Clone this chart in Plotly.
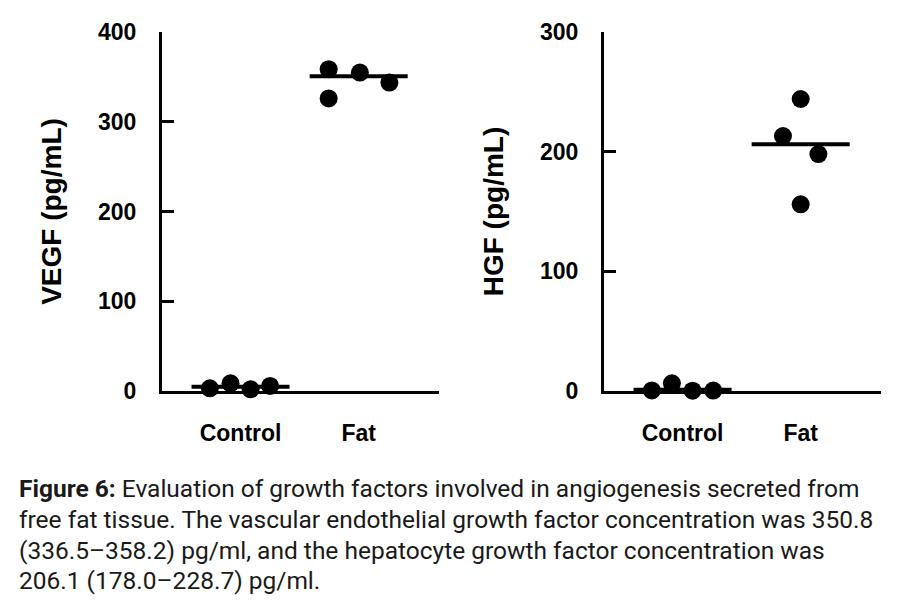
import plotly.graph_objects as go

# ---------------- data ----------------
groups = ["Control", "Fat"]
vegf_control = [3.0, 8.6, 1.9, 5.6]
vegf_fat = [358.6, 354.8, 343.7, 326.0]
vegf_median = [4.8, 350.8]
hgf_control = [0.5, 6.4, 0.3, 0.4]
hgf_fat = [244.0, 213.0, 198.0, 156.0]
hgf_median = [1.0, 206.1]
vegf_ticks = [0, 100, 200, 300, 400]
hgf_ticks = [0, 100, 200, 300]
caption_lines = [
    "<b>Figure 6:</b> Evaluation of growth factors involved in angiogenesis secreted from",
    "free fat tissue. The vascular endothelial growth factor concentration was 350.8",
    "(336.5\u2013358.2) pg/ml, and the hepatocyte growth factor concentration was",
    "206.1 (178.0\u2013228.7) pg/ml.",
]

# ---------------- styling / layout helpers ----------------
W, H = 920, 610
OFF_X, OFF_Y = 6, 8  # default page body margin compensation
jit_vegf = [[-0.26, -0.085, 0.085, 0.25], [-0.254, 0.01, 0.26, -0.254]]
jit_hgf = [[-0.26, -0.09, 0.085, 0.26], [0.0, -0.15, 0.15, 0.0]]
half_line = 0.415
FONT = "Liberation Sans, Arial, sans-serif"


def px_x(p):
    return (p - OFF_X) / W


def px_y(p):
    return 1 - (p - OFF_Y) / H


fig = go.Figure()


def add_panel(xa, ya, control, fat, med, jit):
    for gi, vals in enumerate([control, fat]):
        fig.add_trace(go.Scatter(
            x=[gi + 1 + j for j in jit[gi]], y=vals, mode="markers",
            marker=dict(color="black", size=18, line=dict(width=0)),
            xaxis=xa, yaxis=ya, cliponaxis=False, showlegend=False,
            hoverinfo="y"))
        fig.add_trace(go.Scatter(
            x=[gi + 1 - half_line, gi + 1 + half_line], y=[med[gi], med[gi]],
            mode="lines", line=dict(color="black", width=4),
            xaxis=xa, yaxis=ya, cliponaxis=False, showlegend=False,
            hoverinfo="skip"))


add_panel("x", "y", vegf_control, vegf_fat, vegf_median, jit_vegf)
add_panel("x2", "y2", hgf_control, hgf_fat, hgf_median, jit_hgf)

tickfont = dict(family=FONT, size=23, color="black", weight="bold")
titlefont = dict(family=FONT, size=28, color="black", weight="bold")

xcommon = dict(
    range=[0.335, 2.68], tickvals=[1, 2], ticktext=groups, showgrid=False,
    zeroline=False, showline=True, linecolor="black", linewidth=3,
    ticks="", tickfont=tickfont, ticklabelstandoff=19, fixedrange=True,
    automargin=False)
ycommon = dict(
    showgrid=False, zeroline=False, showline=True, linecolor="black",
    linewidth=3, ticks="inside", ticklen=12, tickwidth=3, tickcolor="black",
    tickfont=tickfont, ticklabelstandoff=18, fixedrange=True,
    automargin=False)

fig.update_layout(
    width=W, height=H,
    margin=dict(l=0, r=0, t=0, b=0, autoexpand=False),
    paper_bgcolor="white", plot_bgcolor="white",
    xaxis=dict(domain=[px_x(160), px_x(437)], anchor="y", **xcommon),
    yaxis=dict(domain=[px_y(391), px_y(32)], anchor="x", range=[0, 400],
               tickvals=vegf_ticks,
               title=dict(text="VEGF (pg/mL)", font=titlefont, standoff=29),
               **ycommon),
    xaxis2=dict(domain=[px_x(602), px_x(879)], anchor="y2", **xcommon),
    yaxis2=dict(domain=[px_y(391), px_y(32)], anchor="x2", range=[0, 300],
                tickvals=hgf_ticks,
                title=dict(text="HGF (pg/mL)", font=titlefont, standoff=29),
                **ycommon),
)

line_y = [488, 519, 550, 580]
for txt, yy in zip(caption_lines, line_y):
    fig.add_annotation(
        text=txt, xref="paper", yref="paper", x=px_x(15), y=px_y(yy),
        xanchor="left", yanchor="middle", showarrow=False,
        font=dict(family="Roboto, sans-serif", size=24.5, color="#1a1a1a"))

fig.write_html("out.html")
